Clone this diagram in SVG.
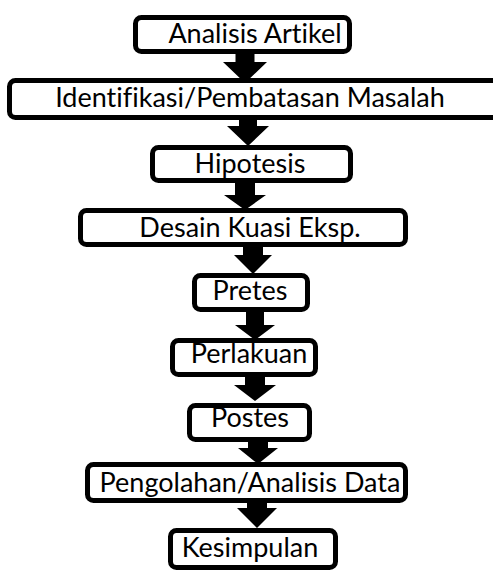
<svg xmlns="http://www.w3.org/2000/svg" width="493" height="571" viewBox="0 0 493 571">
<style>
.box{fill:#fff;stroke:#000;stroke-width:5}
.lbl{font-family:Lato,"Liberation Sans",sans-serif;font-size:27px;font-weight:400;fill:#000;text-anchor:middle;font-variant-ligatures:none}
.arr{fill:#000}
</style>
<rect width="493" height="571" fill="#fff"/>
<g id="n1"><rect class="box" x="135.5" y="17.5" width="214" height="34" rx="6"/><text class="lbl" x="255" y="43">Analisis Artikel</text></g>
<g id="n2"><rect class="box" x="9.5" y="80.5" width="490" height="37" rx="6"/><text class="lbl" x="250" y="107">Identifikasi/Pembatasan Masalah</text></g>
<g id="n3"><rect class="box" x="152.5" y="147.5" width="198" height="33" rx="6"/><text class="lbl" x="250" y="173">Hipotesis</text></g>
<g id="n4"><rect class="box" x="80.5" y="210.5" width="325" height="34" rx="6"/><text class="lbl" x="250" y="237">Desain Kuasi Eksp.</text></g>
<g id="n5"><rect class="box" x="194.5" y="275.5" width="113" height="34" rx="6"/><text class="lbl" x="250" y="300">Pretes</text></g>
<g id="n6"><rect class="box" x="172.5" y="340.5" width="143" height="34" rx="6"/><text class="lbl" x="249" y="363">Perlakuan</text></g>
<g id="n7"><rect class="box" x="189.5" y="405.5" width="120" height="34" rx="6"/><text class="lbl" x="250" y="427">Postes</text></g>
<g id="n8"><rect class="box" x="87.5" y="464.5" width="318" height="36" rx="6"/><text class="lbl" x="250" y="492">Pengolahan/Analisis Data</text></g>
<g id="n9"><rect class="box" x="170.5" y="530.5" width="165" height="37" rx="6"/><text class="lbl" x="250" y="557">Kesimpulan</text></g>
<g id="connectors">
<polygon class="arr" points="235.5,54 254.5,54 254.5,62 267,62 245,83 223,62 235.5,62"/>
<polygon class="arr" points="239,118 257,118 257,126 269,126 248,146 227,126 239,126"/>
<polygon class="arr" points="235,181 255,181 255,195 266,195 245,210 224,195 235,195"/>
<polygon class="arr" points="243,247 263,247 263,255 272,255 253,274 234,255 243,255"/>
<polygon class="arr" points="246,310 264,310 264,325 275,325 255,340 235,325 246,325"/>
<polygon class="arr" points="245,375 265,375 265,385 276,385 255,401 234,385 245,385"/>
<polygon class="arr" points="248,440 268,440 268,448 278,448 258,464 238,448 248,448"/>
<polygon class="arr" points="247,501 267,501 267,508 277,508 257,528 237,508 247,508"/>
</g>
</svg>
